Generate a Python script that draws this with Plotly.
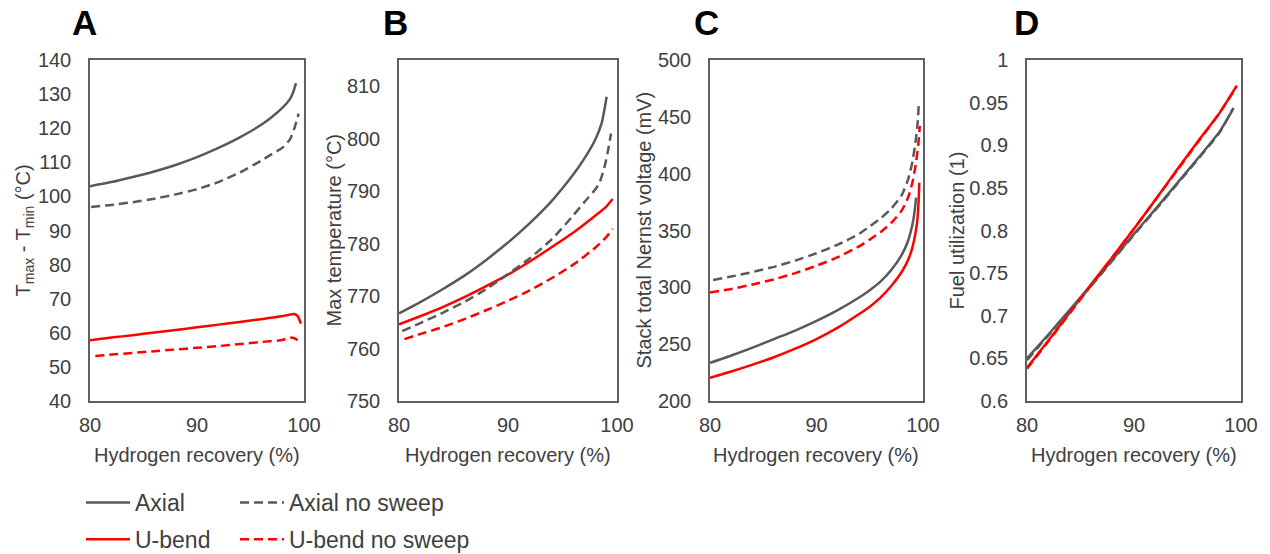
import plotly.graph_objects as go
from plotly.subplots import make_subplots

# ---------------- data ----------------
# Panel A: Tmax - Tmin (°C)
a_axial_x = [80, 82, 84, 86, 88, 90, 92, 94, 96, 97, 98, 98.7, 99.0, 99.25]
a_axial_y = [103.0, 104.2, 105.7, 107.3, 109.2, 111.5, 114.2, 117.3, 121.0, 123.3, 126.0, 128.6, 130.6, 133.2]
a_axialns_x = [80.1, 82, 84, 86, 88, 90, 92, 94, 96, 97, 98, 98.7, 99.1, 99.5]
a_axialns_y = [96.9, 97.5, 98.3, 99.3, 100.6, 102.1, 104.2, 107.0, 110.5, 112.4, 114.3, 116.8, 120.0, 124.3]
a_ubend_x = [80, 82, 84, 86, 88, 90, 92, 94, 96, 98, 98.6, 99.1, 99.45, 99.7]
a_ubend_y = [57.8, 58.6, 59.3, 60.1, 60.8, 61.6, 62.4, 63.2, 64.0, 64.9, 65.3, 65.5, 64.7, 62.7]
a_ubendns_x = [80.5, 82, 84, 86, 88, 90, 92, 94, 96, 98, 98.7, 99.1, 99.4]
a_ubendns_y = [53.2, 53.6, 54.1, 54.6, 55.1, 55.6, 56.1, 56.7, 57.3, 57.9, 58.6, 58.4, 57.8]

# Panel B: max temperature (°C)
b_axial_x = [80, 82, 84, 86, 88, 90, 92, 94, 96, 97, 98, 98.6, 99.05]
b_axial_y = [766.7, 768.9, 771.3, 773.9, 776.9, 780.2, 783.9, 788.1, 793.2, 796.2, 799.8, 803.0, 808.0]
b_axialns_x = [80.3, 82, 84, 86, 88, 90, 92, 94, 96, 97, 98, 98.4, 98.9, 99.2, 99.45]
b_axialns_y = [763.3, 764.9, 766.8, 768.9, 771.3, 774.2, 777.2, 780.8, 785.4, 787.9, 790.3, 791.6, 795.0, 798.0, 801.0]
b_ubend_x = [80, 82, 84, 86, 88, 90, 92, 94, 96, 98, 99, 99.6]
b_ubend_y = [764.6, 766.2, 767.9, 769.8, 771.9, 774.1, 776.6, 779.3, 782.1, 785.3, 787.0, 788.5]
b_ubendns_x = [80.5, 82, 84, 86, 88, 90, 92, 94, 96, 98, 99, 99.6]
b_ubendns_y = [761.8, 762.8, 764.1, 765.6, 767.3, 769.1, 771.1, 773.4, 776.0, 779.2, 781.2, 782.8]

# Panel C: stack total Nernst voltage (mV)
c_axial_x = [80, 82, 84, 86, 88, 90, 92, 94, 95, 96, 97, 98, 98.6, 99.0, 99.2, 99.35]
c_axial_y = [233.5, 240, 247, 254.5, 262, 270.5, 280, 291, 297.5, 305, 315, 328.5, 341, 355, 366, 379]
c_axialns_x = [80.3, 82, 84, 86, 88, 90, 92, 94, 95, 96, 97, 98, 98.6, 99.0, 99.3, 99.5, 99.6]
c_axialns_y = [306.5, 309.5, 313.5, 318, 323.5, 330, 337.5, 347, 353.5, 360.5, 369, 381, 395, 410, 428, 445, 460]
c_ubend_x = [80, 82, 84, 86, 88, 90, 92, 94, 95, 96, 97, 98, 98.6, 99.0, 99.3, 99.5, 99.6, 99.65]
c_ubend_y = [220.5, 226, 232, 238.5, 246, 254.5, 264.5, 276.5, 283, 291, 301, 313.5, 324, 335, 348, 362, 378, 392]
c_ubendns_x = [80, 82, 84, 86, 88, 90, 92, 94, 95, 96, 97, 98, 98.6, 99.0, 99.3, 99.55, 99.7]
c_ubendns_y = [295.5, 298.5, 302.5, 307, 312.5, 319, 326.5, 336, 342, 348.5, 356.5, 367.5, 379, 392, 407, 425, 442]

# Panel D: fuel utilization (1)
d_axial_x = [80, 82, 84, 86, 88, 90, 92, 94, 96, 98, 99.28]
d_axial_y = [0.650, 0.678, 0.707, 0.736, 0.766, 0.796, 0.825, 0.855, 0.885, 0.916, 0.943]
d_axialns_x = [80, 82, 84, 86, 88, 90, 92, 94, 96, 98, 99.3]
d_axialns_y = [0.648, 0.677, 0.706, 0.735, 0.765, 0.795, 0.824, 0.854, 0.884, 0.915, 0.944]
d_ubend_x = [80, 82, 84, 86, 88, 90, 92, 94, 96, 98, 99.6]
d_ubend_y = [0.639, 0.671, 0.704, 0.737, 0.769, 0.802, 0.836, 0.871, 0.905, 0.938, 0.970]
d_ubendns_x = [80, 82, 84, 86, 88, 90, 92, 94, 96, 98, 99.6]
d_ubendns_y = [0.638, 0.670, 0.703, 0.736, 0.769, 0.802, 0.836, 0.870, 0.904, 0.938, 0.969]

x_ticks = [80, 90, 100]
a_ticks = [40, 50, 60, 70, 80, 90, 100, 110, 120, 130, 140]
b_ticks = [750, 760, 770, 780, 790, 800, 810]
c_ticks = [200, 250, 300, 350, 400, 450, 500]
d_ticks = [0.6, 0.65, 0.7, 0.75, 0.8, 0.85, 0.9, 0.95, 1.0]
d_ticktext = ["0.6", "0.65", "0.7", "0.75", "0.8", "0.85", "0.9", "0.95", "1"]

y_titles = ["T<sub>max</sub> - T<sub>min</sub> (°C)", "Max temperature (°C)",
            "Stack total Nernst voltage (mV)", "Fuel utilization (1)"]
x_title = "Hydrogen recovery (%)"
panel_letters = ["A", "B", "C", "D"]

# ---------------- styling ----------------
W, H = 1270, 554
FONT = "Liberation Sans, Arial, sans-serif"
TXT = "#404040"
GRAY = "#595959"
RED = "#ff0000"
DASH = "9px,5px"
LW = 2.5

styles = {
    "Axial": dict(color=GRAY, dash="solid", legend="legend", group="g1"),
    "U-bend": dict(color=RED, dash="solid", legend="legend", group="g2"),
    "Axial no sweep": dict(color=GRAY, dash=DASH, legend="legend2", group="g3"),
    "U-bend no sweep": dict(color=RED, dash=DASH, legend="legend2", group="g4"),
}

panels = [
    {"Axial": (a_axial_x, a_axial_y), "Axial no sweep": (a_axialns_x, a_axialns_y),
     "U-bend": (a_ubend_x, a_ubend_y), "U-bend no sweep": (a_ubendns_x, a_ubendns_y)},
    {"Axial": (b_axial_x, b_axial_y), "Axial no sweep": (b_axialns_x, b_axialns_y),
     "U-bend": (b_ubend_x, b_ubend_y), "U-bend no sweep": (b_ubendns_x, b_ubendns_y)},
    {"Axial": (c_axial_x, c_axial_y), "Axial no sweep": (c_axialns_x, c_axialns_y),
     "U-bend": (c_ubend_x, c_ubend_y), "U-bend no sweep": (c_ubendns_x, c_ubendns_y)},
    {"Axial": (d_axial_x, d_axial_y), "Axial no sweep": (d_axialns_x, d_axialns_y),
     "U-bend": (d_ubend_x, d_ubend_y), "U-bend no sweep": (d_ubendns_x, d_ubendns_y)},
]

fig = make_subplots(rows=1, cols=4)

legend_order = ["Axial", "U-bend", "Axial no sweep", "U-bend no sweep"]
for i, pdata in enumerate(panels):
    for name in legend_order:
        xs, ys = pdata[name]
        st = styles[name]
        fig.add_trace(go.Scatter(
            x=xs, y=ys, mode="lines", name=name,
            line=dict(color=st["color"], dash=st["dash"], width=LW, shape="spline", smoothing=0.5),
            legend=st["legend"], legendgroup=st["group"],
            showlegend=(i == 0), hoverinfo="skip"),
            row=1, col=i + 1)

# plot-area pixel boxes (left, right)
xbox = [(90, 304), (399, 617), (710, 923), (1027, 1241)]
ytop, ybot = 60, 401
y_ranges = [[40, 140], [750, 815], [200, 500], [0.6, 1.0]]
y_tickvals = [a_ticks, b_ticks, c_ticks, d_ticks]
y_ticktexts = [[str(v) for v in a_ticks], [str(v) for v in b_ticks], [str(v) for v in c_ticks], d_ticktext]

axis_common = dict(showline=True, mirror=True, linecolor="#606060", linewidth=1.5,
                   showgrid=False, zeroline=False, ticks="", automargin=False,
                   tickfont=dict(family=FONT, size=20, color=TXT))

for i in range(4):
    l, r = xbox[i]
    xa = "xaxis" if i == 0 else f"xaxis{i+1}"
    ya = "yaxis" if i == 0 else f"yaxis{i+1}"
    fig.layout[xa].update(domain=[l / W, r / W], range=[80, 100], tickvals=x_ticks,
                          ticklabelstandoff=5, **axis_common)
    fig.layout[ya].update(domain=[1 - ybot / H, 1 - ytop / H], range=y_ranges[i],
                          tickvals=y_tickvals[i], ticktext=y_ticktexts[i],
                          ticklabelstandoff=13, **axis_common)

annotations = []
ytitle_x = [24, 334, 644, 957]
letter_x = [84.5, 395.5, 706.5, 1026.5]
for i in range(4):
    l, r = xbox[i]
    annotations.append(dict(text=panel_letters[i], x=letter_x[i] / W, y=1 - 22.5 / H,
                            xref="paper", yref="paper", xanchor="center", yanchor="middle",
                            showarrow=False, font=dict(family=FONT, size=35, color="#000000", weight="bold")))
    annotations.append(dict(text=y_titles[i], x=ytitle_x[i] / W, y=1 - 230.5 / H,
                            xref="paper", yref="paper", xanchor="center", yanchor="middle",
                            textangle=-90, showarrow=False,
                            font=dict(family=FONT, size=20, color=TXT)))
    annotations.append(dict(text=x_title, x=(l + r) / 2 / W, y=1 - 455 / H,
                            xref="paper", yref="paper", xanchor="center", yanchor="middle",
                            showarrow=False, font=dict(family=FONT, size=20, color=TXT)))

legend_common = dict(orientation="v", xanchor="left", yanchor="top",
                     font=dict(family=FONT, size=23, color=TXT), bgcolor="rgba(0,0,0,0)",
                     borderwidth=0, tracegroupgap=4, itemwidth=44, itemclick=False, itemdoubleclick=False)

fig.update_layout(
    width=W, height=H,
    margin=dict(l=0, r=0, t=0, b=0, autoexpand=False),
    paper_bgcolor="white", plot_bgcolor="white",
    font=dict(family=FONT, color=TXT),
    annotations=annotations,
    showlegend=True,
    legend=dict(x=81 / W, y=1 - 481 / H, **legend_common),
    legend2=dict(x=235 / W, y=1 - 481 / H, **legend_common),
)

fig.write_html("out.html")
